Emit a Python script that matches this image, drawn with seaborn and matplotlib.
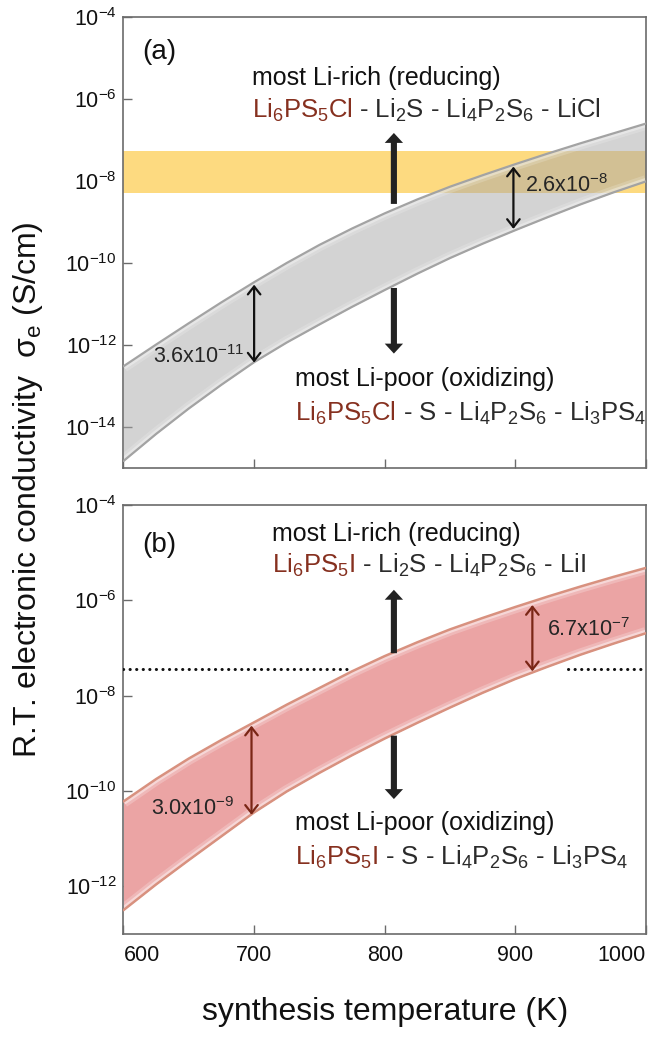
import numpy as np
import matplotlib
matplotlib.use("Agg")
import matplotlib.pyplot as plt
import seaborn as sns
from matplotlib.ticker import FixedLocator, NullLocator, LogFormatterSciNotation

# ---------------- data ----------------
temps = [600, 625, 650, 675, 700, 725, 750, 775, 800,
         825, 850, 875, 900, 925, 950, 975, 1000]
# log10 of sigma_e (S/cm)
cl_upper_log = [-12.52, -11.99, -11.47, -10.96, -10.47, -10.00, -9.56, -9.16, -8.79,
                -8.45, -8.14, -7.86, -7.59, -7.33, -7.08, -6.84, -6.60]
cl_lower_log = [-14.83, -14.17, -13.55, -12.97, -12.42, -11.94, -11.50, -11.07, -10.66,
                -10.26, -9.88, -9.53, -9.20, -8.88, -8.57, -8.28, -8.01]
i_upper_log = [-10.22, -9.75, -9.32, -8.93, -8.56, -8.19, -7.84, -7.49, -7.17,
               -6.88, -6.61, -6.37, -6.14, -5.92, -5.71, -5.51, -5.32]
i_lower_log = [-12.50, -11.96, -11.45, -10.95, -10.45, -10.01, -9.62, -9.25, -8.90,
               -8.57, -8.25, -7.94, -7.65, -7.39, -7.14, -6.91, -6.69]

yellow_band = (5.0e-9, 5.4e-8)          # panel (a) shaded window
dotted_level = 3.6e-8                   # panel (b) dotted reference
dotted_segments = [(600, 775), (940, 1000)]

x_ticks = [600, 700, 800, 900, 1000]
y_ticks_a = [1e-4, 1e-6, 1e-8, 1e-10, 1e-12, 1e-14]
y_ticks_b = [1e-4, 1e-6, 1e-8, 1e-10, 1e-12]

# width annotations: (T, top, bottom, label)
widths_a = [(700, 10**-10.53, 10**-12.43, "3.6x10$^{-11}$"),
            (898.5, 10**-7.65, 10**-9.17, "2.6x10$^{-8}$")]
widths_b = [(698, 10**-8.63, 10**-10.50, "3.0x10$^{-9}$"),
            (913, 10**-6.10, 10**-7.49, "6.7x10$^{-7}$")]

# ---------------- style ----------------
sns.set_theme(style="ticks")
plt.rcParams["font.family"] = ["Liberation Sans", "DejaVu Sans"]
plt.rcParams["mathtext.fontset"] = "custom"
plt.rcParams["mathtext.rm"] = "Liberation Sans"
plt.rcParams["mathtext.it"] = "Liberation Sans:italic"
plt.rcParams["mathtext.bf"] = "Liberation Sans:bold"
plt.rcParams["mathtext.default"] = "regular"

RED = "#86301F"
DARK = "#2b2b2b"
SPINE = "#6b6b6b"
FS_TXT = 18
FS_FORM = 18.5
FS_NUM = 15.5

T = np.array(temps, dtype=float)
cl_up = 10 ** np.array(cl_upper_log)
cl_lo = 10 ** np.array(cl_lower_log)
i_up = 10 ** np.array(i_upper_log)
i_lo = 10 ** np.array(i_lower_log)

fig = plt.figure(figsize=(6.53, 10.39), dpi=100)
ax1 = fig.add_axes([0.1891, 0.5496, 0.8002, 0.4341])
ax2 = fig.add_axes([0.1891, 0.1011, 0.8002, 0.4129])


def style_axis(ax, ylim, yticks, show_x):
    ax.set_yscale("log")
    ax.set_xlim(600, 1000)
    ax.set_ylim(*ylim)
    ax.yaxis.set_major_locator(FixedLocator(yticks))
    ax.yaxis.set_minor_locator(NullLocator())
    ax.yaxis.set_major_formatter(LogFormatterSciNotation())
    ax.set_xticks(x_ticks)
    ax.tick_params(axis="both", direction="in", length=6.5, width=1.0,
                   color=SPINE, labelsize=15.5, labelcolor="#111111",
                   top=False, right=False)
    ax.tick_params(axis="y", pad=5)
    ax.tick_params(axis="x", pad=8)
    for s in ax.spines.values():
        s.set_visible(True)
        s.set_color(SPINE)
        s.set_linewidth(1.2)
    ax.set_xlabel("")
    ax.set_ylabel("")
    if not show_x:
        ax.set_xticklabels([])
    else:
        labs = ax.get_xticklabels()
        labs[0].set_ha("left")
        labs[-1].set_ha("right")


def draw_band(ax, lo, hi, fill, alpha, edge, glow_alpha, edge_lw):
    poly = ax.fill_between(T, lo, hi, color=fill, alpha=alpha, lw=0, zorder=2)
    path = poly.get_paths()[0]
    for series in (lo, hi):
        for lw, a in ((9, glow_alpha * 0.5), (5, glow_alpha)):
            ln = ax.plot(T, series, color="white", lw=lw, alpha=a, zorder=2.5,
                         solid_capstyle="butt", solid_joinstyle="round")[0]
            ln.set_clip_path(path, poly.get_transform())
    sns.lineplot(x=T, y=lo, ax=ax, color=edge, lw=edge_lw, zorder=3)
    sns.lineplot(x=T, y=hi, ax=ax, color=edge, lw=edge_lw, zorder=3)


def thick_arrow(ax, x, y0, y1):
    ax.annotate("", xy=(x, y1), xytext=(x, y0),
                arrowprops=dict(arrowstyle="simple,head_length=0.65,head_width=1.2,tail_width=0.4",
                                mutation_scale=11, color="#222222", lw=0,
                                shrinkA=0, shrinkB=0), zorder=6)


def thin_arrow(ax, x, y0, y1, color):
    ax.annotate("", xy=(x, y1), xytext=(x, y0),
                arrowprops=dict(arrowstyle="<->,head_length=0.38,head_width=0.3",
                                mutation_scale=15, color=color, lw=1.6,
                                shrinkA=0, shrinkB=0), zorder=6)


def formula(ax, x, y, red_part, rest):
    t1 = ax.text(x, y, red_part, color=RED, fontsize=FS_FORM, ha="left",
                 va="baseline", zorder=7)
    ax.annotate(rest, xy=(1, 0), xycoords=t1, ha="left", va="bottom",
                color=DARK, fontsize=FS_FORM, zorder=7)


# ---------------- panel (a) ----------------
style_axis(ax1, (1e-15, 1e-4), y_ticks_a, show_x=False)
ax1.axhspan(*yellow_band, color="#FDDA80", lw=0, zorder=1)
draw_band(ax1, cl_lo, cl_up, "#A8A8A8", 0.5, "#A3A3A3", 0.35, 1.6)

ax1.text(614, 10**-4.85, "(a)", fontsize=20, ha="left", va="center", color="#111111")
ax1.text(698, 10**-5.66, "most Li-rich (reducing)", fontsize=FS_TXT, ha="left",
         va="baseline", color="#111111")
formula(ax1, 698, 10**-6.47, "Li$_6$PS$_5$Cl", " - Li$_2$S - Li$_4$P$_2$S$_6$ - LiCl")
ax1.text(731, 10**-13.01, "most Li-poor (oxidizing)", fontsize=FS_TXT, ha="left",
         va="baseline", color="#111111")
formula(ax1, 731, 10**-13.86, "Li$_6$PS$_5$Cl", " - S - Li$_4$P$_2$S$_6$ - Li$_3$PS$_4$")

thick_arrow(ax1, 807, 10**-8.56, 10**-6.83)
thick_arrow(ax1, 807, 10**-10.61, 10**-12.21)

for x, top, bot, lab in widths_a:
    thin_arrow(ax1, x, bot, top, "#111111")
ax1.text(693, 10**-12.44, widths_a[0][3], fontsize=FS_NUM, ha="right", va="baseline")
ax1.text(907.5, 10**-8.26, widths_a[1][3], fontsize=FS_NUM, ha="left", va="baseline")

# ---------------- panel (b) ----------------
style_axis(ax2, (1e-13, 1e-4), y_ticks_b, show_x=True)
draw_band(ax2, i_lo, i_up, "#EBA4A4", 1.0, "#D8917F", 0.45, 1.8)

for x0, x1 in dotted_segments:
    ax2.plot([x0, x1], [dotted_level, dotted_level], color="#111111", lw=2.2,
             linestyle=(0, (0.05, 2.1)), dash_capstyle="round", zorder=4)

ax2.text(614, 10**-4.85, "(b)", fontsize=20, ha="left", va="center", color="#111111")
ax2.text(714, 10**-4.75, "most Li-rich (reducing)", fontsize=FS_TXT, ha="left",
         va="baseline", color="#111111")
formula(ax2, 714, 10**-5.43, "Li$_6$PS$_5$I", " - Li$_2$S - Li$_4$P$_2$S$_6$ - LiI")
ax2.text(731, 10**-10.81, "most Li-poor (oxidizing)", fontsize=FS_TXT, ha="left",
         va="baseline", color="#111111")
formula(ax2, 731, 10**-11.54, "Li$_6$PS$_5$I", " - S - Li$_4$P$_2$S$_6$ - Li$_3$PS$_4$")

thick_arrow(ax2, 807, 10**-7.11, 10**-5.78)
thick_arrow(ax2, 807, 10**-8.84, 10**-10.17)

for x, top, bot, lab in widths_b:
    thin_arrow(ax2, x, bot, top, "#7A2616")
ax2.text(685, 10**-10.50, widths_b[0][3], fontsize=FS_NUM, ha="right", va="baseline")
ax2.text(924, 10**-6.74, widths_b[1][3], fontsize=FS_NUM, ha="left", va="baseline")

# ---------------- axis titles ----------------
fig.text(385 / 653, 1 - 1012 / 1039, "synthesis temperature (K)", fontsize=23,
         ha="center", va="center", color="#111111")
fig.text(28 / 653, 1 - 490 / 1039, "R.T. electronic conductivity  σ$_e$ (S/cm)",
         fontsize=23, rotation=90, ha="center", va="center", color="#111111")

fig.savefig("out.png", dpi=100)
